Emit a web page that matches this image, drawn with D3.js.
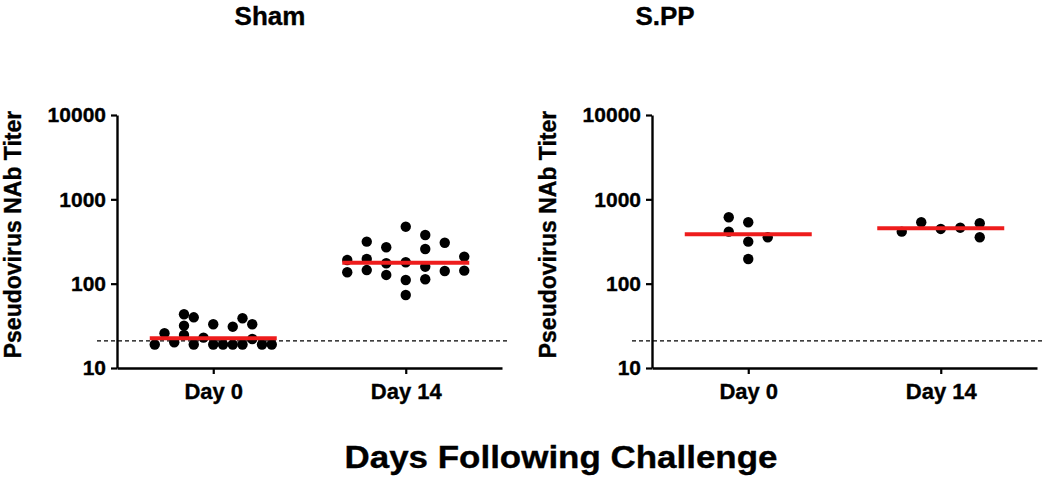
<!DOCTYPE html>
<html>
<head>
<meta charset="utf-8">
<script src="https://cdn.jsdelivr.net/npm/d3@7"></script>
<style>
  html, body { margin: 0; padding: 0; background: #fff; }
  svg { display: block; }
  text { font-family: "Liberation Sans", Arial, Helvetica, sans-serif; font-weight: bold; fill: #000; stroke: #000; stroke-width: 0.35px; }
</style>
</head>
<body>
<svg id="chart" width="1050" height="482"></svg>
<script>
// ---------------- DATA ----------------
const categories = ["Day 0", "Day 14"];
const yTicks = [10, 100, 1000, 10000];
const detectionLimit = 21;

// Sham group
const shamDay0 = [19, 25.8, 20.2, 43.4, 31.8, 24.6, 39.9, 19, 22.9, 33.0, 19, 19, 30.9, 19, 38.9, 19, 33.0, 22.1, 19, 19];
const shamDay0Slot = [-6, -5, -4, -3, -3, -3, -2, -2, -1, 0, 0, 1, 2, 2, 3, 3, 4, 4, 5, 6];
const shamDay14 = [191, 136.5, 315, 196, 145, 270, 174.6, 126.9, 474, 179.4, 110.6, 73.4, 378, 258, 159, 112.8, 306, 141.5, 209, 142.6];
const shamDay14Slot = [-6, -6, -4, -4, -4, -2, -2, -2, 0, 0, 0, 0, 2, 2, 2, 2, 4, 4, 6, 6];

// S.PP group
const sppDay0 = [613, 414, 535, 315, 196, 355];
const sppDay0Slot = [-2, -2, 0, 0, 0, 2];
const sppDay14 = [414, 535, 445.6, 461, 521, 355];
const sppDay14Slot = [-4, -2, 0, 2, 4, 4];

const panels = [
  { title: "Sham", groups: [
      { day: "Day 0", values: shamDay0, slots: shamDay0Slot },
      { day: "Day 14", values: shamDay14, slots: shamDay14Slot } ] },
  { title: "S.PP", groups: [
      { day: "Day 0", values: sppDay0, slots: sppDay0Slot },
      { day: "Day 14", values: sppDay14, slots: sppDay14Slot } ] }
];

// ---------------- LAYOUT ----------------
const svg = d3.select("#chart");
const layout = [
  { axisX: 117, titleX: 270, labelX: 21 },
  { axisX: 652, titleX: 665, labelX: 556 }
];
const plotTop = 115, plotBottom = 368, plotW = 385;

const y = d3.scaleLog().domain([10, 10000]).range([plotBottom, plotTop]);
const x = d3.scalePoint().domain(categories).range([0, plotW]).padding(0.5);
const slot = d3.scaleLinear().domain([-6, 6]).range([-58.5, 58.5]);

panels.forEach((p, i) => {
  const L = layout[i];
  const g = svg.append("g").attr("transform", `translate(${L.axisX},0)`);

  // title
  svg.append("text").attr("x", L.titleX).attr("y", 25)
    .attr("text-anchor", "middle").style("font-size", "26px").text(p.title);

  // dashed detection limit
  g.append("line")
    .attr("x1", -20).attr("x2", plotW + 8)
    .attr("y1", y(detectionLimit)).attr("y2", y(detectionLimit))
    .attr("stroke", "#000").attr("stroke-width", 1.3)
    .attr("stroke-dasharray", "4,3");

  // y axis
  const ya = g.append("g").call(d3.axisLeft(y).tickValues(yTicks).tickFormat(d3.format("d")).tickSize(6).tickSizeOuter(0).tickPadding(5));
  ya.select(".domain").attr("stroke-width", 2.4);
  ya.selectAll(".tick line").attr("stroke-width", 2.2);
  ya.selectAll(".tick text").style("font-size", "21px").attr("font-family", null);

  // x axis
  const xa = g.append("g").attr("transform", `translate(0,${plotBottom})`)
    .call(d3.axisBottom(x).tickSize(6).tickSizeOuter(0).tickPadding(9));
  xa.select(".domain").attr("stroke-width", 2.4);
  xa.selectAll(".tick line").attr("stroke-width", 2.2);
  xa.selectAll(".tick text").style("font-size", "22px").attr("font-family", null);

  // y label
  svg.append("text")
    .attr("transform", `translate(${L.labelX},${(plotTop + plotBottom) / 2 - 7}) rotate(-90)`)
    .attr("text-anchor", "middle").style("font-size", "23px")
    .text("Pseudovirus NAb Titer");

  // points
  p.groups.forEach(grp => {
    const pts = grp.values.map((v, k) => ({ v, s: grp.slots[k] }));
    g.append("g").selectAll("circle").data(pts).join("circle")
      .attr("cx", d => x(grp.day) + slot(d.s))
      .attr("cy", d => y(d.v))
      .attr("r", 5.2)
      .attr("fill", "#000");
    const med = d3.median(grp.values);
    g.append("line")
      .attr("x1", x(grp.day) - 63.5).attr("x2", x(grp.day) + 63.5)
      .attr("y1", y(med)).attr("y2", y(med))
      .attr("stroke", "#ee1c1c").attr("stroke-width", 4);
  });
});

// common x title
svg.append("text").attr("x", 561).attr("y", 468)
  .attr("text-anchor", "middle").style("font-size", "31px")
  .attr("textLength", 433).attr("lengthAdjust", "spacingAndGlyphs")
  .text("Days Following Challenge");
</script>
</body>
</html>
